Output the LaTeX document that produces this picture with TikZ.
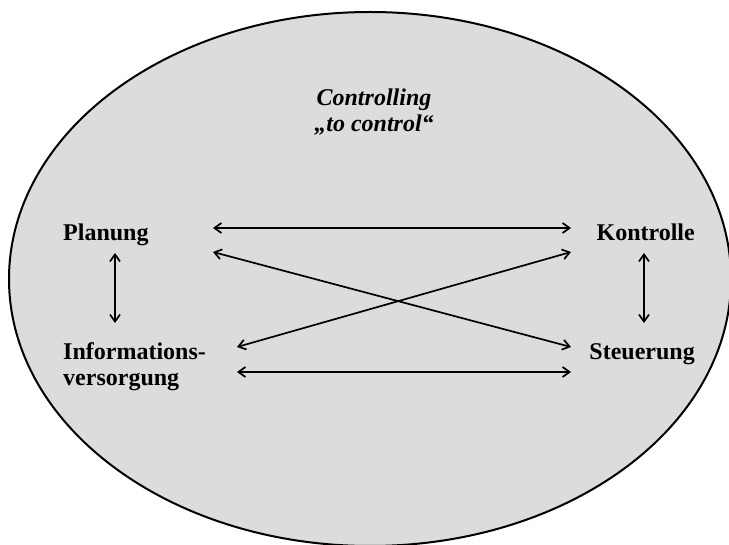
\documentclass[tikz,border=0pt]{standalone}
\usepackage{fontspec}
\setmainfont{Liberation Serif}
\usetikzlibrary{arrows.meta}
\definecolor{bgfill}{RGB}{220,220,220}

\begin{document}
\begin{tikzpicture}[x=1pt, y=-1pt,
        lbl/.style={font=\fontsize{24}{26}\selectfont\bfseries, inner sep=0pt, align=left},
        arr/.style={{Straight Barb[length=7pt,width=10pt]}-{Straight Barb[length=7pt,width=10pt]}, line width=1.7pt}
    ]
        \useasboundingbox (0,0) rectangle (729,545);
        \draw[line width=2pt, fill=bgfill] (370,279) ellipse [x radius=361, y radius=267];

        \node[lbl, align=center, font=\fontsize{24}{26}\selectfont\bfseries\itshape, anchor=base] (ctrl) at (374,132) {Controlling\\„to control“};
        \node[lbl, anchor=base west] (plan) at (63,241) {Planung};
        \node[lbl, anchor=base west] (info) at (63,386) {Informations-\\versorgung};
        \node[lbl, anchor=base east] (kont) at (695,241) {Kontrolle};
        \node[lbl, anchor=base east] (steu) at (695,360) {Steuerung};

        % arrow ends
        \coordinate (p1) at (213,228);
        \coordinate (p2) at (213,252);
        \coordinate (p3) at (115,253);
        \coordinate (i1) at (237,347);
        \coordinate (i2) at (237,372);
        \coordinate (i3) at (115,323);
        \coordinate (k1) at (571,228);
        \coordinate (k2) at (571,252);
        \coordinate (k3) at (644,253);
        \coordinate (s1) at (571,347);
        \coordinate (s2) at (571,372);
        \coordinate (s3) at (644,323);

        \draw[arr] (p1) -- (k1);
        \draw[arr] (p2) -- (s1);
        \draw[arr] (i1) -- (k2);
        \draw[arr] (i2) -- (s2);
        \draw[arr] (p3) -- (i3);
        \draw[arr] (k3) -- (s3);
    \end{tikzpicture}
\end{document}
